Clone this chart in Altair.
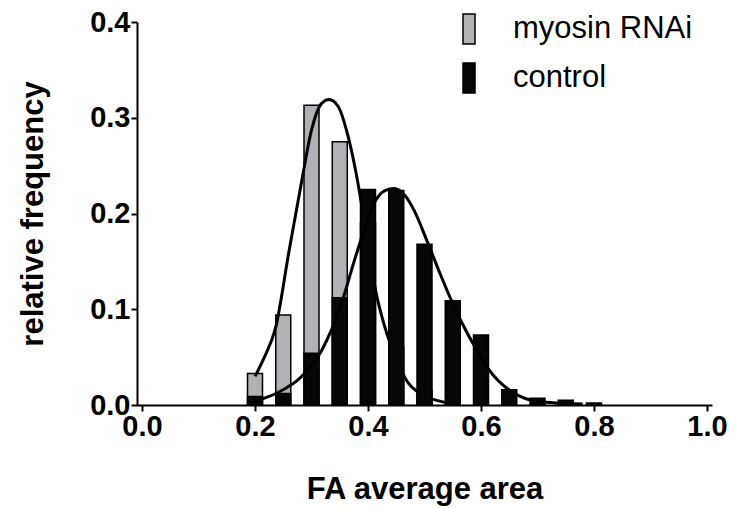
import altair as alt
import pandas as pd

# Histogram bins (bin centres) and relative frequencies per condition
bin_centers = [0.20, 0.25, 0.30, 0.35, 0.40, 0.45, 0.50, 0.55, 0.60, 0.65, 0.70, 0.75, 0.80]
myosin_freq = [0.033, 0.094, 0.313, 0.275, 0.190, 0.060, 0.015, 0, 0, 0, 0, 0, 0]
control_freq = [0.009, 0.012, 0.054, 0.112, 0.225, 0.224, 0.168, 0.109, 0.073, 0.016, 0.007, 0.005, 0.002]

# Fitted distribution curves
myosin_fit_x = [0.200, 0.215, 0.237, 0.260, 0.283, 0.300, 0.318, 0.331, 0.347, 0.365,
                0.379, 0.394, 0.414, 0.428, 0.450, 0.470, 0.492, 0.527, 0.555]
myosin_fit_y = [0.030, 0.048, 0.082, 0.160, 0.235, 0.287, 0.315, 0.319, 0.312, 0.280,
                0.242, 0.190, 0.118, 0.085, 0.048, 0.024, 0.012, 0.004, 0.001]
control_fit_x = [0.200, 0.237, 0.283, 0.318, 0.353, 0.376, 0.395, 0.414, 0.430, 0.446, 0.465,
                 0.481, 0.504, 0.527, 0.550, 0.573, 0.595, 0.614, 0.654, 0.689, 0.736, 0.780]
control_fit_y = [0.004, 0.012, 0.030, 0.057, 0.106, 0.151, 0.186, 0.214, 0.224, 0.226, 0.219,
                 0.204, 0.172, 0.138, 0.106, 0.078, 0.055, 0.037, 0.014, 0.005, 0.002, 0.001]

groups = ["myosin RNAi", "control"]
group_colors = ["#b0b1b5", "#060606"]

FONT = "Liberation Sans"

myosin_bars = pd.DataFrame({"x": bin_centers, "freq": myosin_freq, "group": groups[0]})
control_bars = pd.DataFrame({"x": bin_centers, "freq": control_freq, "group": groups[1]})
myosin_fit = pd.DataFrame({"x": myosin_fit_x, "freq": myosin_fit_y})
control_fit = pd.DataFrame({"x": control_fit_x, "freq": control_fit_y})

axis_common = dict(
    format=".1f",
    labelFont=FONT, labelFontWeight="bold", labelFontSize=29, labelColor="black",
    titleFont=FONT, titleFontWeight="bold", titleFontSize=31, titleColor="black",
    domainColor="black", domainWidth=2, tickColor="black", tickWidth=2, tickSize=6,
    grid=False, labelFlush=False, labelOverlap=False,
)

x_enc = alt.X(
    "x:Q",
    scale=alt.Scale(domain=[0, 1], nice=False, zero=False),
    axis=alt.Axis(values=[0, 0.2, 0.4, 0.6, 0.8, 1.0], labelPadding=1,
                  titleY=93, titleBaseline="alphabetic", **axis_common),
    title="FA average area",
)
y_enc = alt.Y(
    "freq:Q",
    scale=alt.Scale(domain=[0, 0.4], nice=False),
    axis=alt.Axis(values=[0, 0.1, 0.2, 0.3, 0.4], labelPadding=1,
                  titleX=-95, titleBaseline="alphabetic", **axis_common),
    title="relative frequency",
)

color_enc = alt.Color(
    "group:N",
    scale=alt.Scale(domain=groups, range=group_colors),
    legend=alt.Legend(
        title=None, orient="none", legendX=316, legendY=-9, padding=0,
        symbolType="M-0.4,-1H0.4V1H-0.4Z", symbolSize=900,
        symbolStrokeColor="black", symbolStrokeWidth=1.5, symbolOpacity=1,
        labelFont=FONT, labelFontSize=31, labelColor="black", labelLimit=0,
        labelOffset=28, rowPadding=13,
    ),
)

bar_props = dict(size=15, stroke="black", strokeWidth=1.5, opacity=1)

myosin_layer = alt.Chart(myosin_bars).mark_bar(**bar_props).encode(
    x=x_enc, y=y_enc, color=color_enc
).transform_filter("datum.freq > 0")

control_layer = alt.Chart(control_bars).mark_bar(**bar_props).encode(
    x=x_enc, y=y_enc, color=color_enc
).transform_filter("datum.freq > 0")

myosin_curve = alt.Chart(myosin_fit).mark_line(
    color="black", strokeWidth=3, interpolate="monotone"
).encode(x=x_enc, y=y_enc)

control_curve = alt.Chart(control_fit).mark_line(
    color="black", strokeWidth=3, interpolate="monotone"
).encode(x=x_enc, y=y_enc)

chart = alt.layer(
    myosin_layer, myosin_curve, control_layer, control_curve
).properties(
    width=575, height=383,
    autosize=alt.AutoSizeParams(type="none"),
    padding={"left": 137, "top": 22, "right": 24, "bottom": 103},
    background="white",
).configure_view(stroke=None)

chart.save("out.html", embed_options={"renderer": "svg", "actions": False})
